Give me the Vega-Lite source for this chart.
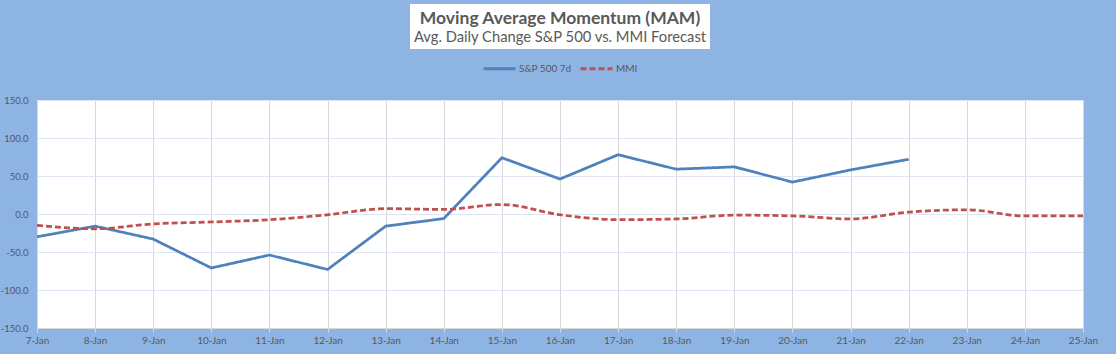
{
  "$schema": "https://vega.github.io/schema/vega-lite/v6.json",
  "background": "#8EB4E3",
  "padding": {"left": 0, "top": 4, "right": 19, "bottom": 9},
  "spacing": 51,
  "center": true,
  "bounds": "flush",
  "config": {
    "font": "Lato",
    "view": {"stroke": null},
    "locale": {"number": {"decimal": ".", "thousands": ",", "grouping": [3], "currency": ["$", ""], "minus": "-"}}
  },
  "vconcat": [
    {
      "width": 300,
      "height": 45,
      "view": {"fill": "white", "stroke": null},
      "layer": [
        {
          "data": {"values": [{"text": "Moving Average Momentum (MAM)"}]},
          "mark": {"type": "text", "fontSize": 17.5, "fontWeight": "bold", "color": "#595959", "baseline": "alphabetic", "dy": -3},
          "encoding": {"text": {"field": "text"}}
        },
        {
          "data": {"values": [{"text": "Avg. Daily Change S&P 500 vs. MMI Forecast"}]},
          "mark": {"type": "text", "fontSize": 14.75, "color": "#595959", "baseline": "alphabetic", "dy": 15},
          "encoding": {"text": {"field": "text"}}
        }
      ]
    },
    {
      "width": 1046,
      "height": 228,
      "view": {"fill": "white", "stroke": null},
      "data": {"values": [
        {"date": "7-Jan", "series": "S&P 500 7d", "value": -30},
        {"date": "8-Jan", "series": "S&P 500 7d", "value": -16},
        {"date": "9-Jan", "series": "S&P 500 7d", "value": -33},
        {"date": "10-Jan", "series": "S&P 500 7d", "value": -71},
        {"date": "11-Jan", "series": "S&P 500 7d", "value": -54},
        {"date": "12-Jan", "series": "S&P 500 7d", "value": -73},
        {"date": "13-Jan", "series": "S&P 500 7d", "value": -16},
        {"date": "14-Jan", "series": "S&P 500 7d", "value": -6},
        {"date": "15-Jan", "series": "S&P 500 7d", "value": 74},
        {"date": "16-Jan", "series": "S&P 500 7d", "value": 46},
        {"date": "17-Jan", "series": "S&P 500 7d", "value": 78},
        {"date": "18-Jan", "series": "S&P 500 7d", "value": 59},
        {"date": "19-Jan", "series": "S&P 500 7d", "value": 62},
        {"date": "20-Jan", "series": "S&P 500 7d", "value": 42},
        {"date": "21-Jan", "series": "S&P 500 7d", "value": 58},
        {"date": "22-Jan", "series": "S&P 500 7d", "value": 72},
        {"date": "7-Jan", "series": "MMI", "value": -15},
        {"date": "8-Jan", "series": "MMI", "value": -19.5},
        {"date": "9-Jan", "series": "MMI", "value": -13},
        {"date": "10-Jan", "series": "MMI", "value": -10.5},
        {"date": "11-Jan", "series": "MMI", "value": -7.5},
        {"date": "12-Jan", "series": "MMI", "value": -1},
        {"date": "13-Jan", "series": "MMI", "value": 7},
        {"date": "14-Jan", "series": "MMI", "value": 6},
        {"date": "15-Jan", "series": "MMI", "value": 12.5},
        {"date": "16-Jan", "series": "MMI", "value": -1},
        {"date": "17-Jan", "series": "MMI", "value": -7.5},
        {"date": "18-Jan", "series": "MMI", "value": -6.5},
        {"date": "19-Jan", "series": "MMI", "value": -1.5},
        {"date": "20-Jan", "series": "MMI", "value": -2.5},
        {"date": "21-Jan", "series": "MMI", "value": -6.5},
        {"date": "22-Jan", "series": "MMI", "value": 2.5},
        {"date": "23-Jan", "series": "MMI", "value": 5.5},
        {"date": "24-Jan", "series": "MMI", "value": -2.5},
        {"date": "25-Jan", "series": "MMI", "value": -2.5}
      ]},
      "encoding": {
        "x": {
          "field": "date", "type": "ordinal", "sort": null,
          "scale": {"type": "point", "padding": 0, "domain": ["7-Jan","8-Jan","9-Jan","10-Jan","11-Jan","12-Jan","13-Jan","14-Jan","15-Jan","16-Jan","17-Jan","18-Jan","19-Jan","20-Jan","21-Jan","22-Jan","23-Jan","24-Jan","25-Jan"]},
          "axis": {"title": null, "labelAngle": 0, "grid": true, "gridColor": "#D9D9D9", "domainColor": "#D9D9D9", "tickColor": "#D9D9D9", "tickSize": 4, "labelPadding": 3, "labelColor": "#595959", "labelFontSize": 10}
        },
        "y": {
          "field": "value", "type": "quantitative",
          "scale": {"domain": [-150, 150], "nice": false, "zero": false},
          "axis": {"title": null, "values": [-150, -100, -50, 0, 50, 100, 150], "format": ".1f", "grid": true, "gridColor": "#DCE6F2", "domain": false, "ticks": false, "tickSize": 0, "labelPadding": 9, "labelColor": "#595959", "labelFontSize": 9.5}
        },
        "color": {
          "field": "series", "type": "nominal",
          "scale": {"domain": ["S&P 500 7d", "MMI"], "range": ["#4F81BD", "#C0504D"]},
          "legend": {"title": null, "orient": "none", "legendX": 445, "legendY": 47, "direction": "horizontal", "symbolType": "stroke", "symbolSize": 1024, "symbolStrokeWidth": 3, "labelFontSize": 10, "labelColor": "#595959", "labelOffset": 2, "columnPadding": 2}
        },
        "strokeDash": {
          "field": "series", "type": "nominal",
          "scale": {"domain": ["S&P 500 7d", "MMI"], "range": [[1, 0], [6, 3]]},
          "legend": {"title": null, "orient": "none", "legendX": 445, "legendY": 47, "direction": "horizontal", "symbolType": "stroke", "symbolSize": 1024, "symbolStrokeWidth": 3, "labelFontSize": 10, "labelColor": "#595959", "labelOffset": 2, "columnPadding": 2}
        }
      },
      "layer": [
        {
          "transform": [{"filter": "datum.series === 'S&P 500 7d'"}],
          "mark": {"type": "line", "strokeWidth": 2.75, "interpolate": "linear"}
        },
        {
          "transform": [{"filter": "datum.series === 'MMI'"}],
          "mark": {"type": "line", "strokeWidth": 2.75, "interpolate": "monotone"}
        }
      ]
    }
  ]
}
